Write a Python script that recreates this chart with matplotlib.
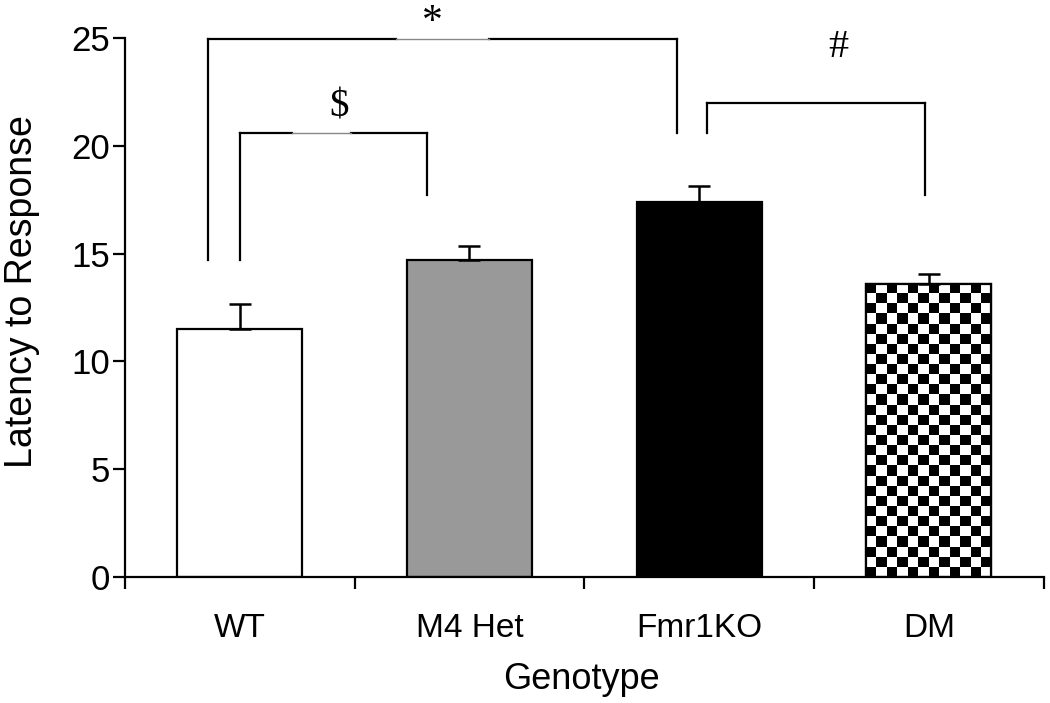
import matplotlib
matplotlib.use('Agg')
from matplotlib import pyplot as plt
import numpy as np

genotypes = ['WT', 'M4 Het', 'Fmr1KO', 'DM']
latency = [11.5, 14.7, 17.4, 13.6]
sem = [1.15, 0.65, 0.75, 0.45]
fills = ['white', '#999999', 'black', 'checker']

# significance brackets: x left, x right, top, left leg end, right leg end, label, label x, label y
brackets = [
    (-0.14, 1.905, 24.95, 14.7, 20.6, '*', 0.84, 25.72),
    (0.0, 0.817, 20.6, 14.7, 17.7, '$', 0.434, 21.8),
    (2.035, 2.985, 22.0, 20.6, 17.7, '#', 2.604, 24.55),
]
# thin grey stretch left in the top line of each bracket (fraction of its width)
gaps = [(0.40, 0.60), (0.28, 0.595), None]

plt.rcParams['font.family'] = ['Liberation Sans', 'DejaVu Sans']

fig = plt.figure(figsize=(10.5, 7.03), dpi=100)
ax = fig.add_axes([0.119, 0.179, 0.875, 0.767])

x = np.arange(len(genotypes))
width = 0.545
bars = ax.bar(x, latency, width=width, color=[c if c != 'checker' else 'white' for c in fills],
              edgecolor='black', linewidth=1.6, zorder=2)

# checkerboard fill for the DM bar
for bar, fill in zip(bars, fills):
    if fill != 'checker':
        continue
    nx, ny = 12, 29
    board = (np.indices((ny, nx)).sum(axis=0) % 2).astype(float)
    img = ax.imshow(board, cmap='gray', interpolation='nearest', aspect='auto',
                    extent=(bar.get_x(), bar.get_x() + bar.get_width(), 0, bar.get_height()),
                    zorder=2.5)
    img.set_clip_path(bar)
    edge = plt.Rectangle((bar.get_x(), 0), bar.get_width(), bar.get_height(),
                         fill=False, edgecolor='black', linewidth=1.6, zorder=3)
    ax.add_patch(edge)

ax.errorbar(x, latency, yerr=[np.zeros(len(sem)), sem], fmt='none', ecolor='black',
            elinewidth=1.8, capsize=8, capthick=1.8, zorder=4)

for (x0, x1, top, y0, y1, label, lx, ly), gap in zip(brackets, gaps):
    ax.plot([x0, x0], [y0, top], color='black', lw=1.6, clip_on=False)
    ax.plot([x1, x1], [y1, top], color='black', lw=1.6, clip_on=False)
    if gap is None:
        ax.plot([x0, x1], [top, top], color='black', lw=1.6, clip_on=False)
    else:
        mid_l = x0 + (x1 - x0) * gap[0]
        mid_r = x0 + (x1 - x0) * gap[1]
        ax.plot([x0, mid_l], [top, top], color='black', lw=1.6, clip_on=False)
        ax.plot([mid_r, x1], [top, top], color='black', lw=1.6, clip_on=False)
        ax.plot([mid_l, mid_r], [top, top], color='#888888', lw=1.0, clip_on=False)
    ax.text(lx, ly, label, ha='center', va='center', fontsize={'*': 30, '$': 28, '#': 29}[label],
            family=['Liberation Serif', 'DejaVu Serif'], clip_on=False)

ax.set_xlim(-0.5, 3.5)
ax.set_ylim(0, 25)
ax.set_yticks([0, 5, 10, 15, 20, 25])
ax.set_xticks(np.arange(-0.5, 4.0, 1.0))
ax.set_xticklabels([])
ax.set_xticks(x, minor=True)
ax.set_xticklabels(genotypes, minor=True)
ax.tick_params(axis='x', which='major', direction='out', length=8.5, width=1.6)
ax.tick_params(axis='x', which='minor', length=0, pad=26, labelsize=24)
ax.tick_params(axis='y', direction='out', length=8.5, width=1.6, labelsize=25, pad=2)

for side in ['top', 'right']:
    ax.spines[side].set_visible(False)
for side in ['left', 'bottom']:
    ax.spines[side].set_linewidth(1.6)

ax.set_xlabel('Genotype', fontsize=26)
ax.xaxis.set_label_coords(0.497, -0.158)
ax.set_ylabel('Latency to Response', fontsize=27)
ax.yaxis.set_label_coords(-0.093, 0.53)

fig.savefig('out.png', dpi=100)
